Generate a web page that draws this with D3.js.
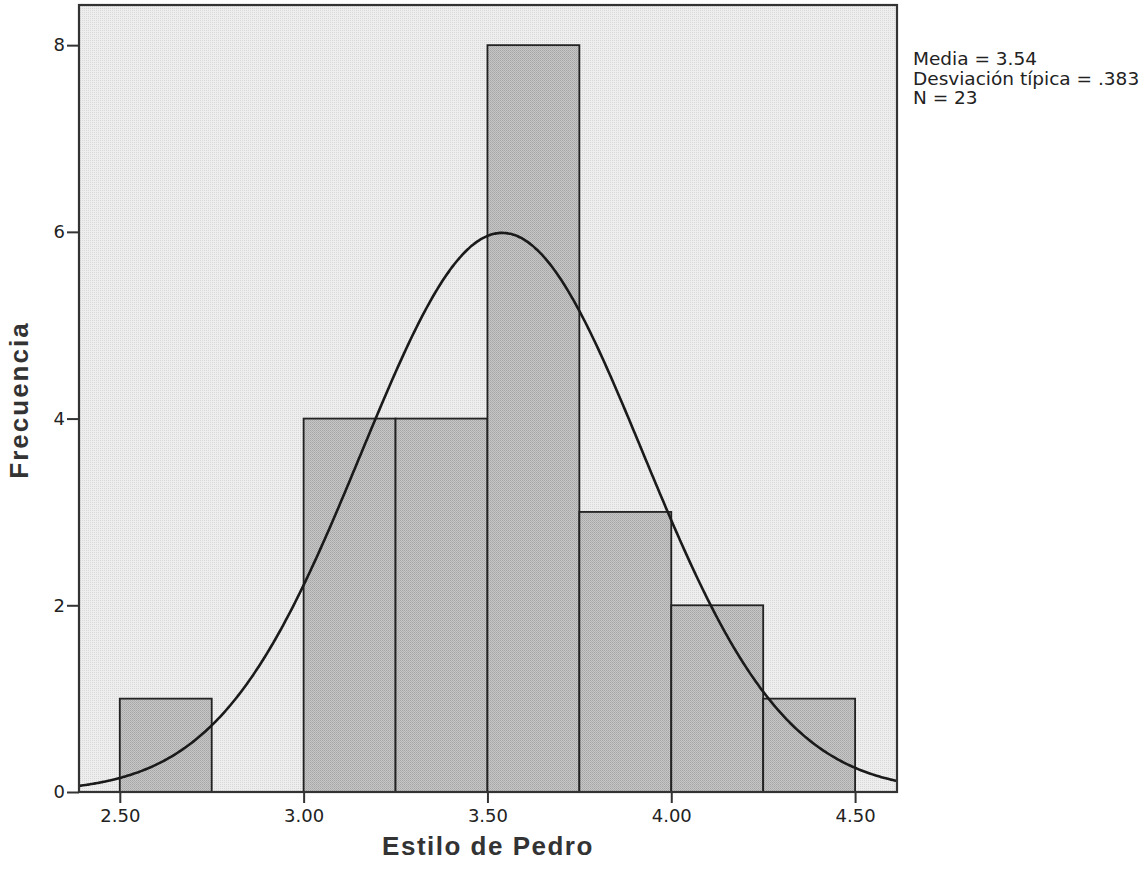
<!DOCTYPE html>
<html><head><meta charset="utf-8">
<script src="https://cdn.jsdelivr.net/npm/d3@7"></script>
<style>body{margin:0;background:#fff;} svg{display:block;}</style>
</head><body>
<script>
const binStarts = [2.50, 2.75, 3.00, 3.25, 3.50, 3.75, 4.00, 4.25];
const binWidth = 0.25;
const counts = [1, 0, 4, 4, 8, 3, 2, 1];
const xTicks = [2.50, 3.00, 3.50, 4.00, 4.50];
const yTicks = [0, 2, 4, 6, 8];
const statMean = [3.54];
const statSd = [0.383];
const statN = [23];
const statLabels = ["Media = 3.54", "Desviación típica = .383", "N = 23"];

const W = 1145, H = 879;
const L = 79, R = 897, T = 5, B = 792;
const svg = d3.select("body").append("svg").attr("width", W).attr("height", H);
const x = d3.scaleLinear().domain([2.389, 4.614]).range([L, R]);
const y = d3.scaleLinear().domain([0, 8.43]).range([B, T]);
const font = "'DejaVu Sans', Verdana, sans-serif";
const boldFont = "'Liberation Sans', Arial, sans-serif";

const defs = svg.append("defs");
const p1 = defs.append("pattern").attr("id","bg").attr("width",2).attr("height",2).attr("patternUnits","userSpaceOnUse");
p1.append("rect").attr("width",2).attr("height",2).attr("fill","#eeeeee");
p1.append("rect").attr("width",1).attr("height",1).attr("fill","#d8d8d8");
const p2 = defs.append("pattern").attr("id","bar").attr("width",2).attr("height",2).attr("patternUnits","userSpaceOnUse");
p2.append("rect").attr("width",2).attr("height",2).attr("fill","#c6c6c6");
p2.append("rect").attr("width",1).attr("height",1).attr("fill","#a6a6a6");
p2.append("rect").attr("x",1).attr("y",1).attr("width",1).attr("height",1).attr("fill","#b0b0b0");

svg.append("rect").attr("x",L).attr("y",T).attr("width",R-L).attr("height",B-T).attr("fill","url(#bg)");

svg.append("g").selectAll("rect").data(binStarts.map((s,i)=>({s,c:counts[i]})).filter(d=>d.c>0))
  .join("rect")
  .attr("x", d=>x(d.s)).attr("width", d=>x(d.s+binWidth)-x(d.s))
  .attr("y", d=>y(d.c)).attr("height", d=>y(0)-y(d.c))
  .attr("fill","url(#bar)").attr("stroke","#222").attr("stroke-width",1.8);

// normal curve
const mu = statMean[0], sd = statSd[0], n = statN[0];
const pts = d3.range(0, 401).map(i => {
  const xv = 2.389 + (4.614-2.389)*i/400;
  const yv = n*binWidth/(sd*Math.sqrt(2*Math.PI))*Math.exp(-0.5*((xv-mu)/sd)**2);
  return [xv, yv];
});
svg.append("path").datum(pts)
  .attr("d", d3.line().x(d=>x(d[0])).y(d=>y(d[1])).curve(d3.curveBasis))
  .attr("fill","none").attr("stroke","#1a1a1a").attr("stroke-width",2.6);

// border
svg.append("rect").attr("x",L).attr("y",T).attr("width",R-L).attr("height",B-T)
  .attr("fill","none").attr("stroke","#333").attr("stroke-width",2.2);

// axes
const xa = svg.append("g").attr("transform",`translate(0,${B})`)
  .call(d3.axisBottom(x).tickValues(xTicks).tickFormat(d3.format(".2f")).tickSize(11).tickPadding(6));
const ya = svg.append("g").attr("transform",`translate(${L},0)`)
  .call(d3.axisLeft(y).tickValues(yTicks).tickFormat(d3.format("d")).tickSize(12).tickPadding(2));
[xa, ya].forEach(a => {
  a.select(".domain").remove();
  a.selectAll("line").attr("stroke","#333").attr("stroke-width",2);
  a.selectAll("text").attr("font-family",font).attr("font-size",18).attr("fill","#222");
});

svg.append("text").attr("x",488).attr("y",855).attr("text-anchor","middle")
  .attr("font-family",boldFont).attr("font-size",26).attr("font-weight","bold").attr("letter-spacing",1.5).attr("fill","#333")
  .text("Estilo de Pedro");
svg.append("text").attr("transform",`translate(28,400) rotate(-90)`).attr("text-anchor","middle")
  .attr("font-family",boldFont).attr("font-size",26).attr("font-weight","bold").attr("letter-spacing",2).attr("fill","#333")
  .text("Frecuencia");

svg.append("g").selectAll("text").data(statLabels).join("text")
  .attr("x",913).attr("y",(d,i)=>65+i*19.5)
  .attr("font-family",font).attr("font-size",18.5).attr("fill","#222")
  .text(d=>d);
</script>
</body></html>
